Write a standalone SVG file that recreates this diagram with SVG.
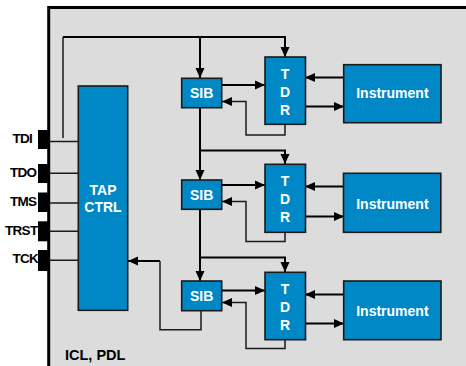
<svg xmlns="http://www.w3.org/2000/svg" width="466" height="366" viewBox="0 0 466 366">
<style>
.blk{fill:#0088c6;stroke:#1a1a1a;stroke-width:1.6}
.w{fill:#fff;font-family:"Liberation Sans",Arial,sans-serif;font-weight:bold;font-size:14px;text-anchor:middle}
.pin{fill:#000}
.lbl{fill:#000;font-family:"Liberation Sans",Arial,sans-serif;font-weight:bold;font-size:13.5px;letter-spacing:-0.7px}
.c{fill:none;stroke:#000;stroke-width:2}
.t{fill:none;stroke:#1a1a1a;stroke-width:1.5}
</style>
<defs>
<marker id="ah" markerUnits="userSpaceOnUse" markerWidth="10" markerHeight="10" refX="10" refY="5" orient="auto" viewBox="0 0 10 10">
<path d="M0,0.5 L10,5 L0,9.5 z" fill="#000"/>
</marker>
</defs>
<rect width="466" height="366" fill="#fff"/>
<rect id="frame" x="48.7" y="7.5" width="430" height="370" fill="#dcdcdc" stroke="#000" stroke-width="3"/>

<g id="connectors">
<path class="t" d="M63,138 V37"/>
<path class="c" d="M63,37 H285 V57" marker-end="url(#ah)"/>
<path class="c" d="M200,37 V78" marker-end="url(#ah)"/>
<path class="c" d="M222,85 H265" marker-end="url(#ah)"/>
<path class="t" d="M285,124 V135 H246 V101.5 H222" marker-end="url(#ah)"/>
<path class="c" d="M344,77.5 H305" marker-end="url(#ah)"/>
<path class="c" d="M305,106.5 H344" marker-end="url(#ah)"/>
<path class="c" d="M200,107 V180" marker-end="url(#ah)"/>
<path class="c" d="M200,150.5 H285 V164" marker-end="url(#ah)"/>
<path class="c" d="M222,185 H265" marker-end="url(#ah)"/>
<path class="t" d="M285,232 V241.5 H246 V201.5 H222" marker-end="url(#ah)"/>
<path class="c" d="M344,186.5 H305" marker-end="url(#ah)"/>
<path class="c" d="M305,216.5 H344" marker-end="url(#ah)"/>
<path class="c" d="M200,209 V281" marker-end="url(#ah)"/>
<path class="c" d="M200,257.5 H285 V272" marker-end="url(#ah)"/>
<path class="c" d="M222,290.5 H265" marker-end="url(#ah)"/>
<path class="t" d="M285,339.5 V348.5 H246 V302.5 H222" marker-end="url(#ah)"/>
<path class="c" d="M344,294.5 H305" marker-end="url(#ah)"/>
<path class="c" d="M305,323.5 H344" marker-end="url(#ah)"/>
<path class="t" d="M201,310.5 V329.7 H160 V261"/>
<path class="c" d="M160,261 H128" marker-end="url(#ah)"/>
<path class="t" d="M49,141.5 H78 M49,173.3 H78 M49,203 H78 M49,231.3 H78 M49,260.3 H78"/>
</g>

<g id="pins">
<rect class="pin" x="38" y="130" width="11" height="19"/>
<rect class="pin" x="38" y="164" width="11" height="19"/>
<rect class="pin" x="38" y="192.5" width="11" height="19.5"/>
<rect class="pin" x="38" y="221.3" width="11" height="20"/>
<rect class="pin" x="38" y="250" width="11" height="21"/>
<text class="lbl" x="12.5" y="142.7">TDI</text>
<text class="lbl" x="10" y="176.5">TDO</text>
<text class="lbl" x="10" y="206">TMS</text>
<text class="lbl" x="5" y="234.5">TRST</text>
<text class="lbl" x="12.5" y="263">TCK</text>
</g>

<g id="tap">
<rect class="blk" x="78.3" y="86" width="49.4" height="224.3"/>
<text class="w" x="103" y="195" font-size="15">TAP</text>
<text class="w" x="103" y="211.5" font-size="15">CTRL</text>
</g>

<g id="sib1"><rect class="blk" x="181.7" y="78.3" width="40" height="29.4"/><text class="w" x="201.7" y="98">SIB</text></g>
<g id="sib2"><rect class="blk" x="181.7" y="180" width="40" height="29.3"/><text class="w" x="201.7" y="199.7">SIB</text></g>
<g id="sib3"><rect class="blk" x="181.7" y="281" width="40" height="29.7"/><text class="w" x="201.7" y="300.8">SIB</text></g>

<g id="tdr1"><rect class="blk" x="265" y="57" width="40.5" height="67.3"/>
<text class="w" x="285" y="78.5">T</text><text class="w" x="285" y="96.5">D</text><text class="w" x="285" y="114.5">R</text></g>
<g id="tdr2"><rect class="blk" x="265" y="164.3" width="40.5" height="68"/>
<text class="w" x="285" y="185.5">T</text><text class="w" x="285" y="203.5">D</text><text class="w" x="285" y="221.5">R</text></g>
<g id="tdr3"><rect class="blk" x="265" y="272.3" width="40.5" height="67.4"/>
<text class="w" x="285" y="293.5">T</text><text class="w" x="285" y="311.5">D</text><text class="w" x="285" y="329.5">R</text></g>

<g id="inst1"><rect class="blk" x="343.7" y="64.7" width="97.3" height="58"/><text class="w" x="392.4" y="98.3" font-size="14.5">Instrument</text></g>
<g id="inst2"><rect class="blk" x="343.5" y="173.3" width="97.3" height="59"/><text class="w" x="392.4" y="209" font-size="14.5">Instrument</text></g>
<g id="inst3"><rect class="blk" x="343.7" y="281" width="97.3" height="58.7"/><text class="w" x="392.4" y="316" font-size="14.5">Instrument</text></g>

<text x="65" y="359.5" font-family="'Liberation Sans',Arial,sans-serif" font-weight="bold" font-size="14.5" fill="#000">ICL, PDL</text>
</svg>
